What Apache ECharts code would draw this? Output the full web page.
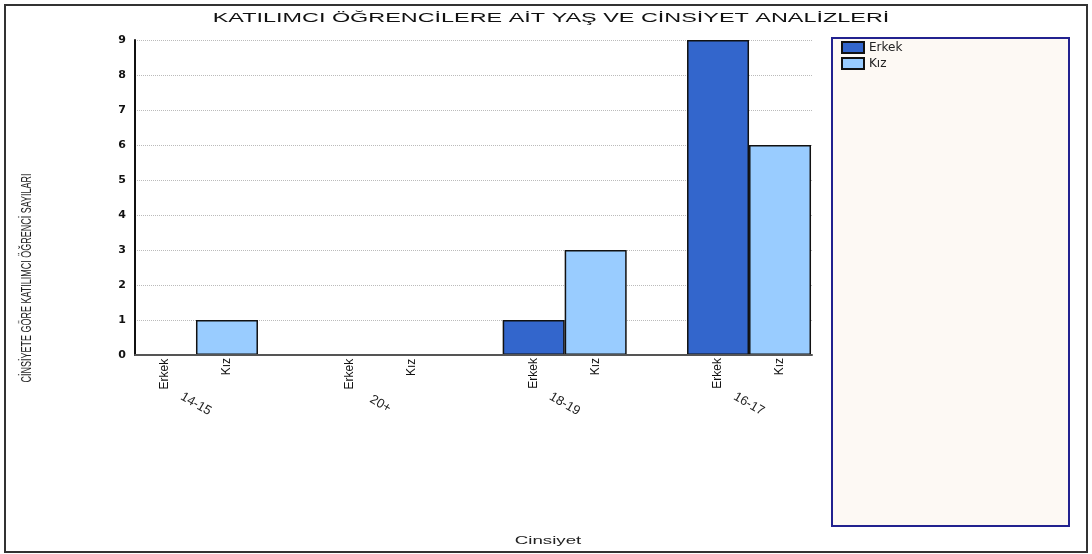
<!DOCTYPE html>
<html>
<head>
<meta charset="utf-8">
<title>Yaş ve Cinsiyet Analizleri</title>
<script src="https://cdn.jsdelivr.net/npm/echarts@6/dist/echarts.min.js"></script>
<style>
  html, body { margin: 0; padding: 0; background: #fff; }
  #chart { width: 1092px; height: 554px; }
</style>
</head>
<body>
<div id="chart"></div>
<script>
// veriler
const ageGroups = ['14-15', '20+', '18-19', '16-17']
const erkekCounts = [0, 0, 1, 9]
const kizCounts = [1, 0, 3, 6]
const seriesNames = ['Erkek', 'Kız']
const seriesColors = ['#3366CC', '#99CCFF']

const titleText = 'KATILIMCI ÖĞRENCİLERE AİT YAŞ VE CİNSİYET ANALİZLERİ'
const yAxisTitle = 'CİNSİYETE GÖRE KATILIMCI ÖĞRENCİ SAYILARI'
const xAxisTitle = 'Cinsiyet'

const chart = echarts.init(document.getElementById('chart'))

// bar etiketleri (Erkek / Kız) çubukların altında dik yazılır
function barSeries(name, data, color) {
  return {
    name: name,
    type: 'bar',
    xAxisIndex: 0,
    yAxisIndex: 0,
    data: data,
    barWidth: 62,
    barGap: '0%',
    itemStyle: {
      color: color,
      borderColor: '#111',
      borderWidth: 1.5
    },
    label: {
      show: true,
      position: 'bottom',
      distance: 3,
      rotate: 90,
      align: 'right',
      verticalAlign: 'middle',
      formatter: '{a}',
      color: '#111',
      fontSize: 12,
      fontFamily: 'Liberation Sans Narrow, Liberation Sans, sans-serif'
    },
    emphasis: { disabled: true }
  }
}

const options = {
  animation: false,
  backgroundColor: '#fff',
  graphic: [
    {
      type: 'rect',
      shape: { x: 5, y: 5, width: 1082, height: 547 },
      style: { fill: 'none', stroke: '#333', lineWidth: 2 },
      z: -10
    },
    {
      type: 'rect',
      shape: { x: 832, y: 38, width: 237, height: 488 },
      style: { fill: '#FDF9F4', stroke: '#22228f', lineWidth: 2 },
      z: -5
    },
    {
      type: 'text',
      x: 551,
      y: 19,
      scaleX: 1.95,
      style: {
        text: titleText,
        align: 'center',
        verticalAlign: 'middle',
        fontSize: 12,
        fontFamily: 'Liberation Sans, Arial, sans-serif',
        fill: '#111'
      }
    },
    {
      type: 'text',
      x: 548,
      y: 541,
      scaleX: 1.7,
      style: {
        text: xAxisTitle,
        align: 'center',
        verticalAlign: 'middle',
        fontSize: 11,
        fontFamily: 'Liberation Sans, Arial, sans-serif',
        fill: '#222'
      }
    },
    {
      type: 'text',
      x: 27,
      y: 278,
      rotation: Math.PI / 2,
      scaleY: 1.6,
      style: {
        text: yAxisTitle,
        align: 'center',
        verticalAlign: 'middle',
        fontSize: 9,
        fontFamily: 'Liberation Sans, Arial, sans-serif',
        fill: '#222'
      }
    }
  ],
  legend: {
    data: seriesNames,
    orient: 'vertical',
    left: 841,
    top: 41,
    icon: 'rect',
    itemWidth: 22,
    itemHeight: 11,
    itemGap: 3,
    padding: 0,
    textStyle: {
      fontSize: 12,
      lineHeight: 13,
      color: '#222',
      fontFamily: 'DejaVu Sans, sans-serif'
    }
  },
  // grid 0: çubuklar, grid 1: eksen çizgileri ve ızgara
  grid: [
    { left: 103.8, right: 250.8, top: 40, bottom: 199 },
    { left: 135, right: 280, top: 40, bottom: 199 }
  ],
  xAxis: [
    {
      type: 'category',
      gridIndex: 0,
      data: ageGroups,
      axisLine: { show: false },
      axisTick: { show: false },
      axisLabel: {
        rotate: -30,
        align: 'center',
        verticalAlign: 'middle',
        margin: 49,
        fontSize: 13,
        color: '#222',
        fontFamily: 'Liberation Sans, Arial, sans-serif'
      }
    },
    {
      type: 'value',
      gridIndex: 1,
      min: 0,
      max: 1,
      z: 5,
      axisLine: { show: true, lineStyle: { color: '#555', width: 2 } },
      axisTick: { show: false },
      axisLabel: { show: false },
      splitLine: { show: false }
    }
  ],
  yAxis: [
    {
      type: 'value',
      gridIndex: 0,
      min: 0,
      max: 9,
      interval: 1,
      show: false
    },
    {
      type: 'value',
      gridIndex: 1,
      min: 0,
      max: 9,
      interval: 1,
      axisLine: { show: true, lineStyle: { color: '#111', width: 2 } },
      axisTick: { show: false },
      axisLabel: {
        margin: 9,
        fontSize: 11,
        fontWeight: 'bold',
        color: '#111',
        fontFamily: 'DejaVu Sans, sans-serif'
      },
      splitLine: { show: true, lineStyle: { color: '#bbb', type: 'dotted', width: 1 } }
    }
  ],
  series: [
    barSeries(seriesNames[0], erkekCounts, seriesColors[0]),
    barSeries(seriesNames[1], kizCounts, seriesColors[1])
  ]
}

chart.setOption(options)
</script>
</body>
</html>
